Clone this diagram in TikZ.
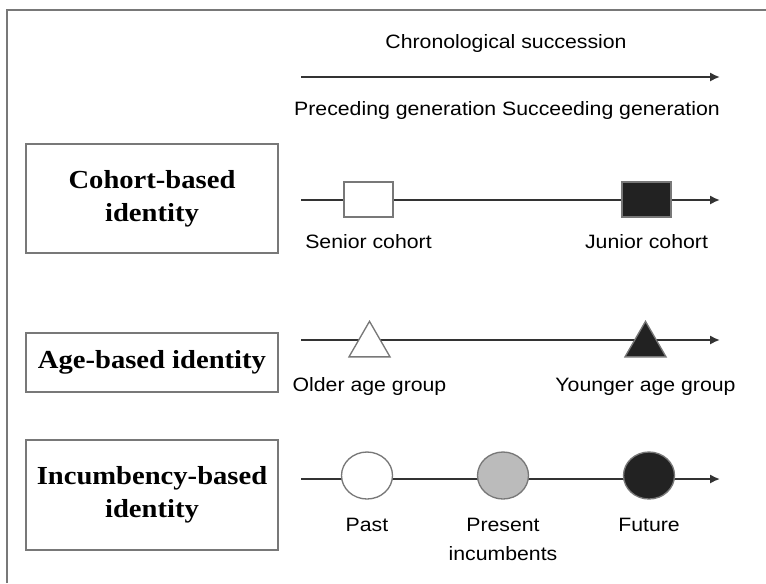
\documentclass[tikz,border=0pt]{standalone}
\usepackage{fontspec}
\setmainfont{Liberation Sans}[FakeStretch=1.1]
\newfontfamily\boxfont{Liberation Serif}[FakeStretch=1.1]
\usetikzlibrary{positioning, arrows.meta, shapes.geometric}

\definecolor{linegray}{HTML}{333333}
\definecolor{framegray}{HTML}{787878}
\definecolor{darkfill}{HTML}{222222}
\definecolor{midfill}{HTML}{BBBBBB}

\tikzset{
  idbox/.style={draw=framegray, line width=1.5pt, minimum width=189pt, align=center,
    font=\boxfont\bfseries\fontsize{19.5}{25}\selectfont},
  marker/.style={draw=framegray, line width=1pt, inner sep=0pt},
  lbl/.style={inner sep=0pt, align=center, font=\fontsize{14.5}{22}\selectfont},
  timeline/.style={draw=linegray, line width=1.8pt}
}

\begin{document}
\begin{tikzpicture}[x=0.75pt, y=-0.75pt, >={Latex[length=7.5pt,width=7pt]}]
    \useasboundingbox (0,0) rectangle (766,583);
    \draw [framegray, line width=1.5pt] (6.7,583) -- (6.7,10) -- (766,10);

    \node [lbl] (chrono) at (506,43) {Chronological succession};
    \coordinate (ts) at (301,77);
    \coordinate (te) at (720,77);
    \draw [timeline, ->] (ts) -- (te);
    \node [lbl] (gens) at (507,110) {Preceding generation Succeeding generation};

    \node [idbox, minimum height=81.75pt] (cohort) at (152,198.5) {Cohort-based\\identity};
    \node [idbox, minimum height=44.25pt] (age) at (152,362.5) {Age-based identity};
    \node [idbox, minimum height=82.5pt] (incumb) at (152,495) {Incumbency-based\\identity};

    \coordinate (cs) at (301,200);
    \coordinate (ce) at (720,200);
    \draw [timeline, ->] (cs) -- (ce);
    \node [marker, fill=white, minimum width=36.75pt, minimum height=26.25pt] (senior) at (368.5,199.5) {};
    \node [marker, fill=darkfill, minimum width=36.75pt, minimum height=26.25pt] (junior) at (646.5,199.5) {};
    \node [lbl, below=12.5pt of senior] {Senior cohort};
    \node [lbl, below=12.5pt of junior] {Junior cohort};

    \coordinate (as) at (301,340);
    \coordinate (ae) at (720,340);
    \draw [timeline, ->] (as) -- (ae);
    \node [marker, fill=white, regular polygon, regular polygon sides=3, minimum size=35.5pt, anchor=south] (older) at (369.5,357.5) {};
    \node [marker, fill=darkfill, regular polygon, regular polygon sides=3, minimum size=35.5pt, anchor=south] (younger) at (645.5,357.5) {};
    \node [lbl, below=15pt of older] {Older age group};
    \node [lbl, below=15pt of younger] {Younger age group};

    \coordinate (is) at (301,479);
    \coordinate (ie) at (720,479);
    \draw [timeline, ->] (is) -- (ie);
    \node [marker, fill=white, ellipse, minimum width=38.25pt, minimum height=35.25pt] (past) at (367,475.5) {};
    \node [marker, fill=midfill, ellipse, minimum width=38.25pt, minimum height=35.25pt] (present) at (503,475.5) {};
    \node [marker, fill=darkfill, ellipse, minimum width=38.25pt, minimum height=35.25pt] (future) at (649,475.5) {};
    \node [lbl, below=13.5pt of past] {Past};
    \node [lbl, below=13.5pt of present] {Present\\incumbents};
    \node [lbl, below=13.5pt of future] {Future};
  \end{tikzpicture}
\end{document}
